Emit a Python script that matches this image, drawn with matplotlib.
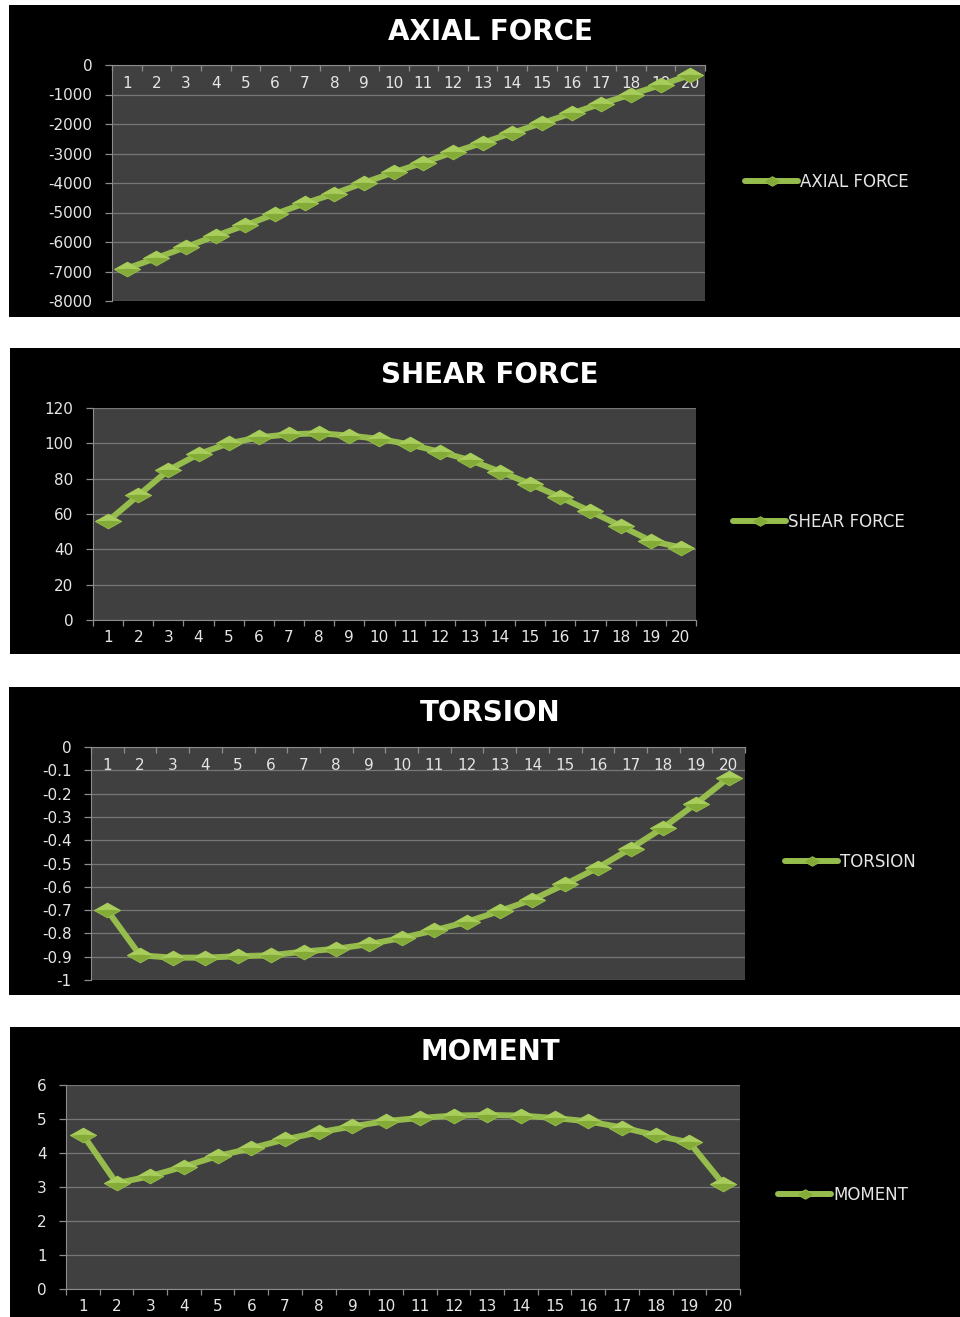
import matplotlib
matplotlib.use("Agg")
import matplotlib.pyplot as plt
from matplotlib.patches import Rectangle
from matplotlib.path import Path
import numpy as np

# ---- data -------------------------------------------------------------
categories = list(range(1, 21))

axial_force = [-6900, -6540, -6170, -5790, -5430, -5050, -4690, -4360, -3990, -3640,
               -3310, -2960, -2640, -2300, -1970, -1640, -1310, -1000, -680, -340]

shear_force = [56, 70.5, 84.8, 93.9, 100, 103.4, 105.1, 105.7, 104.4, 102.5,
               99.4, 95.2, 90.5, 84, 77.1, 69.5, 61.5, 53.3, 44.8, 41]

torsion = [-0.701, -0.894, -0.904, -0.904, -0.898, -0.894, -0.878, -0.866, -0.846, -0.820,
           -0.787, -0.750, -0.704, -0.655, -0.589, -0.518, -0.436, -0.346, -0.243, -0.132]

moment = [4.54, 3.11, 3.32, 3.60, 3.91, 4.14, 4.40, 4.61, 4.78, 4.94,
          5.03, 5.10, 5.12, 5.10, 5.03, 4.93, 4.75, 4.52, 4.31, 3.09]

titles = ["AXIAL FORCE", "SHEAR FORCE", "TORSION", "MOMENT"]

# ---- styling ----------------------------------------------------------
W, H = 960, 1317
plt.rcParams["font.family"] = ["DejaVu Sans"]
plt.rcParams["axes.unicode_minus"] = False

PLOT_BG = "#404040"
GRID = "#767676"
AXIS = "#8c8c8c"
TEXT = "#e6e6e6"
LINE = "#95bc4c"

# flat, wide diamond marker with a lighter upper bevel
DH = 0.56
diamond = Path([(-1, 0), (0, DH), (1, 0), (0, -DH), (-1, 0)],
               [Path.MOVETO, Path.LINETO, Path.LINETO, Path.LINETO, Path.CLOSEPOLY])
diamond_top = Path([(-1, 0), (0, DH), (1, 0), (0, 0.06), (-1, 0)],
                   [Path.MOVETO, Path.LINETO, Path.LINETO, Path.LINETO, Path.CLOSEPOLY])

fig = plt.figure(figsize=(W / 100, H / 100), dpi=100, facecolor="white")


def box(x0, y0, x1, y1):
    return [x0 / W, 1 - y1 / H, (x1 - x0) / W, (y1 - y0) / H]


def fmt(v):
    if abs(v) < 1e-9:
        return "0"
    return f"{v:g}"


panels = [
    dict(data=axial_force, bg=(9, 5, 960, 317), ax=(112, 65, 705, 301), ty=32,
         leg=(745, 182), yt=np.arange(-8000, 1, 1000), cat_top=True),
    dict(data=shear_force, bg=(10, 348, 960, 654), ax=(93, 408, 696, 620), ty=375,
         leg=(733, 522), yt=np.arange(0, 121, 20), cat_top=False),
    dict(data=torsion, bg=(9, 687, 960, 995), ax=(91, 747, 745, 980), ty=713,
         leg=(785, 862), yt=np.round(np.arange(-1.0, 0.01, 0.1), 1), cat_top=True),
    dict(data=moment, bg=(10, 1027, 960, 1317), ax=(66, 1085, 740, 1289), ty=1052,
         leg=(778, 1195), yt=np.arange(0, 7, 1), cat_top=False),
]

MS = 19

for title, p in zip(titles, panels):
    x0, y0, x1, y1 = p["bg"]
    fig.patches.append(Rectangle((x0 / W, 1 - y1 / H), (x1 - x0) / W, (y1 - y0) / H,
                                 transform=fig.transFigure, facecolor="black",
                                 edgecolor="none", zorder=-10))

    ax = fig.add_axes(box(*p["ax"]))
    ax.set_facecolor(PLOT_BG)
    ax.set_xlim(0.5, 20.5)
    ax.set_ylim(p["yt"][0], p["yt"][-1])

    ln, = ax.plot(categories, p["data"], color=LINE, lw=4.3, marker=diamond, ms=MS,
                  mfc="#84ab38", mec="#98c04e", mew=0.6, solid_joinstyle="round",
                  solid_capstyle="round", zorder=3, clip_on=False, label=title)
    ax.plot(categories, p["data"], ls="none", marker=diamond_top, ms=MS,
            mfc="#a8cd5c", mec="none", zorder=4, clip_on=False)

    # value axis
    ax.set_yticks(p["yt"])
    ax.set_yticklabels([fmt(v) for v in p["yt"]])
    ax.yaxis.grid(True, color=GRID, lw=0.9)
    ax.set_axisbelow(True)
    ax.tick_params(axis="y", direction="out", length=5, width=0.9, color=AXIS,
                   labelcolor=TEXT, labelsize=11, pad=9)

    # category axis
    ax.set_xticks(categories)
    ax.set_xticklabels([str(c) for c in categories])
    ax.set_xticks(np.arange(0.5, 21, 1), minor=True)
    for s in ax.spines.values():
        s.set_visible(False)
    ax.spines["left"].set_visible(True)
    ax.spines["left"].set_color(AXIS)
    if p["cat_top"]:
        ax.spines["top"].set_visible(True)
        ax.spines["top"].set_color(AXIS)
        ax.tick_params(axis="x", which="major", top=False, bottom=False,
                       labeltop=True, labelbottom=False, pad=-22,
                       labelcolor=TEXT, labelsize=11)
        ax.tick_params(axis="x", which="minor", top=True, bottom=False,
                       direction="in", length=4, width=0.9, color=AXIS)
    else:
        ax.spines["bottom"].set_visible(True)
        ax.spines["bottom"].set_color(AXIS)
        ax.tick_params(axis="x", which="major", top=False, bottom=False,
                       labelcolor=TEXT, labelsize=11, pad=3.5)
        ax.tick_params(axis="x", which="minor", bottom=True, direction="out",
                       length=4, width=0.9, color=AXIS)

    fig.text(490 / W, 1 - p["ty"] / H, title, ha="center", va="center",
             color="white", fontsize=20, fontweight="bold")

    lx, ly = p["leg"]
    ax.legend(handles=[ln], loc="center left", bbox_to_anchor=(lx / W, 1 - ly / H),
              bbox_transform=fig.transFigure, frameon=False, handlelength=3.2,
              handletextpad=0.1, borderpad=0, borderaxespad=0, fontsize=12,
              labelcolor=TEXT, markerscale=0.65)

fig.savefig("out.png", dpi=100, facecolor="white")
